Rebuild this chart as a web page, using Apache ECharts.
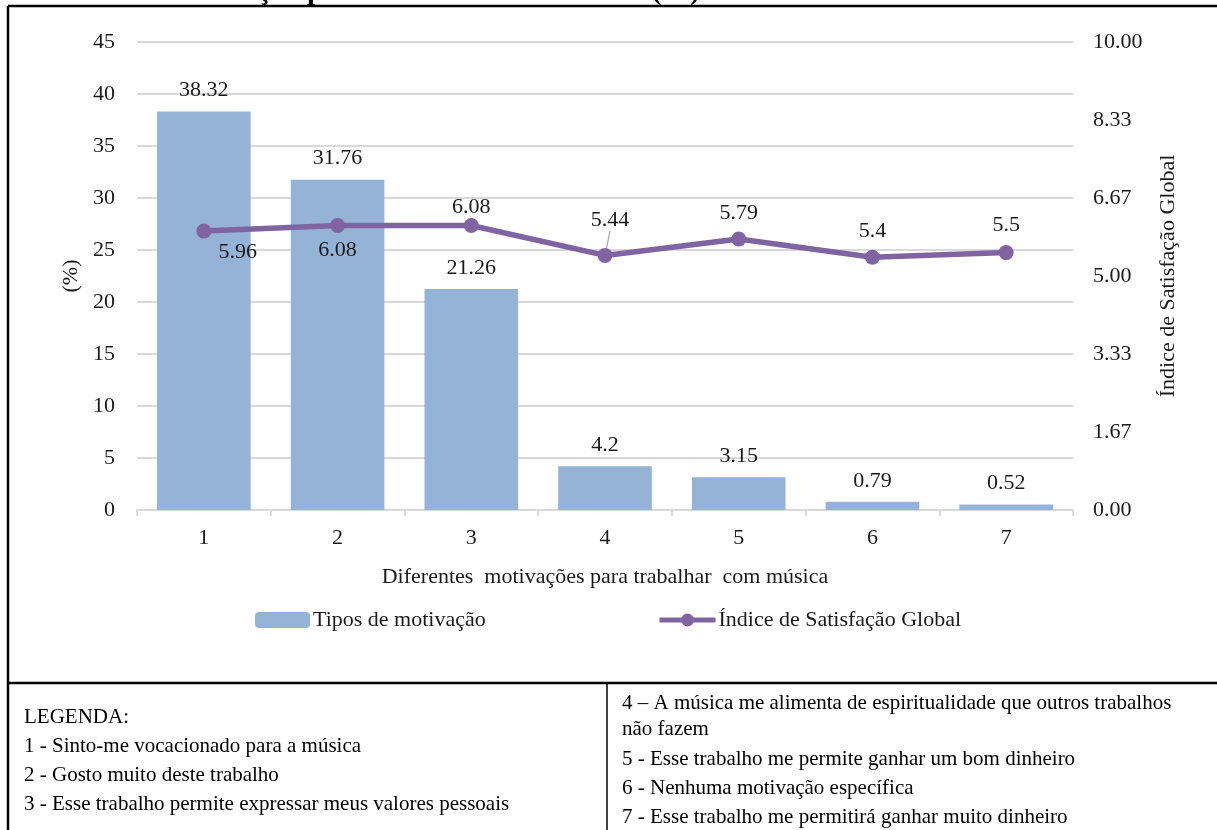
<!DOCTYPE html>
<html>
<head>
<meta charset="utf-8">
<script src="https://cdn.jsdelivr.net/npm/echarts@6/dist/echarts.min.js"></script>
<style>
  html, body { margin: 0; padding: 0; background: #fff; }
  #chart { width: 1217px; height: 830px; }
</style>
</head>
<body>
<div id="chart"></div>
<script>
// Categories (motivation codes) and the two series
const categories = ['1', '2', '3', '4', '5', '6', '7'];
const motivationPct = [38.32, 31.76, 21.26, 4.2, 3.15, 0.79, 0.52];
const satisfactionIndex = [5.96, 6.08, 6.08, 5.44, 5.79, 5.4, 5.5];

const barName = 'Tipos de motivação';
const lineName = 'Índice de Satisfação Global';
const xAxisName = 'Diferentes  motivações para trabalhar  com música';
const titleText = 'Gráfico 1 – Motivação para trabalhar com música (%)';

const legendLeft = [
  'LEGENDA:',
  '1 - Sinto-me vocacionado para a música',
  '2 - Gosto muito deste trabalho',
  '3 - Esse trabalho permite expressar meus valores pessoais'
];
const legendRight = [
  '4 – A música me alimenta de espiritualidade que outros trabalhos',
  'não fazem',
  '5 - Esse trabalho me permite ganhar um bom dinheiro',
  '6 - Nenhuma motivação específica',
  '7 - Esse trabalho me permitirá ganhar muito dinheiro'
];

const FONT = '"Liberation Serif", "Times New Roman", serif';
const TXT = '#1a1a1a';
const GRID_C = '#d9d9d9';
const FS = 22;

// per-point placement of the index labels
const lineLabelCfg = [
  { position: 'bottom', distance: 3 },
  { position: 'bottom', distance: 6 },
  { position: 'top', distance: 0 },
  { position: 'top', distance: 3 },
  { position: 'top', distance: 7 },
  { position: 'top', distance: 8 },
  { position: 'top', distance: 9 }
];

const lineData = satisfactionIndex.map((v, i) => {
  const item = { value: v, label: lineLabelCfg[i] };
  if (i === 3) {
    item.labelLine = { show: true, lineStyle: { color: '#a6a6a6', width: 1.2 } };
  }
  return item;
});

const chart = echarts.init(document.getElementById('chart'), null, { renderer: 'canvas' });

const textEls = [];
legendLeft.forEach((t, i) => {
  textEls.push({
    type: 'text', x: 24, y: [717, 746, 775, 804][i],
    style: { text: t, font: '21px ' + FONT, fill: '#000', verticalAlign: 'middle' }
  });
});
legendRight.forEach((t, i) => {
  textEls.push({
    type: 'text', x: 622, y: [703, 729, 759, 788, 817][i],
    style: { text: t, font: '21px ' + FONT, fill: '#000', verticalAlign: 'middle' }
  });
});

const option = {
  animation: false,
  textStyle: { fontFamily: FONT, color: TXT },
  grid: { left: 137, right: 144, top: 42, bottom: 320, containLabel: false },
  legend: [
    {
      left: 255, top: 609, padding: 0,
      itemWidth: 55, itemHeight: 16,
      data: [barName],
      textStyle: { fontFamily: FONT, fontSize: FS, color: TXT, padding: [0, 0, 0, -2] }
    },
    {
      left: 657, top: 609, padding: 0,
      itemWidth: 56, itemHeight: 16,
      data: [lineName],
      lineStyle: { width: 5 },
      textStyle: { fontFamily: FONT, fontSize: FS, color: TXT, padding: [0, 0, 0, -2] }
    }
  ],
  xAxis: {
    type: 'category',
    data: categories,
    boundaryGap: true,
    axisLine: { lineStyle: { color: GRID_C, width: 2 } },
    axisTick: { show: true, length: 6, lineStyle: { color: GRID_C, width: 2 } },
    axisLabel: { fontFamily: FONT, fontSize: FS, color: TXT, margin: 17 },
    name: xAxisName,
    nameLocation: 'middle',
    nameGap: 56,
    nameTextStyle: { fontFamily: FONT, fontSize: FS, color: TXT }
  },
  yAxis: [
    {
      type: 'value',
      min: 0, max: 45, interval: 5,
      axisLine: { show: false },
      axisTick: { show: false },
      splitLine: { lineStyle: { color: GRID_C, width: 2 } },
      axisLabel: { fontFamily: FONT, fontSize: FS, color: TXT, margin: 22 },
      name: '(%)',
      nameLocation: 'middle',
      nameGap: 55,
      nameRotate: 90,
      nameTextStyle: { fontFamily: FONT, fontSize: FS, color: TXT }
    },
    {
      type: 'value',
      min: 0, max: 10, interval: 10 / 6,
      axisLine: { show: false },
      axisTick: { show: false },
      splitLine: { show: false },
      axisLabel: {
        fontFamily: FONT, fontSize: FS, color: TXT, margin: 20,
        formatter: v => v.toFixed(2)
      },
      name: lineName,
      nameLocation: 'middle',
      nameGap: 84,
      nameRotate: 90,
      nameTextStyle: { fontFamily: FONT, fontSize: FS, color: TXT }
    }
  ],
  series: [
    {
      name: barName,
      type: 'bar',
      yAxisIndex: 0,
      data: motivationPct,
      barCategoryGap: '30%',
      itemStyle: { color: '#95b3d7' },
      label: {
        show: true, position: 'top', distance: 10,
        fontFamily: FONT, fontSize: FS, color: TXT
      }
    },
    {
      name: lineName,
      type: 'line',
      yAxisIndex: 1,
      data: lineData,
      symbol: 'circle',
      symbolSize: 15,
      lineStyle: { color: '#8064a2', width: 5.5 },
      itemStyle: { color: '#8064a2' },
      label: {
        show: true,
        fontFamily: FONT, fontSize: FS, color: TXT
      },
      labelLine: { show: false },
      labelLayout: function (p) {
        if (p.dataIndex === 0) return { dx: 34 };
        if (p.dataIndex === 3) return { dx: 5, dy: -14 };
        return {};
      },
      z: 5
    }
  ],
  graphic: [
    {
      type: 'text', x: 700, y: 6,
      style: {
        text: titleText, font: 'bold 29px ' + FONT, fill: '#000',
        align: 'right', verticalAlign: 'bottom'
      }
    },
    // outer frame and legend table rules
    { type: 'line', shape: { x1: 8, y1: 6, x2: 1217, y2: 6 }, style: { stroke: '#000', lineWidth: 2.5 } },
    { type: 'line', shape: { x1: 8, y1: 6, x2: 8, y2: 830 }, style: { stroke: '#000', lineWidth: 2.5 } },
    { type: 'line', shape: { x1: 8, y1: 683, x2: 1217, y2: 683 }, style: { stroke: '#000', lineWidth: 2.5 } },
    { type: 'line', shape: { x1: 607, y1: 683, x2: 607, y2: 830 }, style: { stroke: '#000', lineWidth: 1.5 } }
  ].concat(textEls)
};

chart.setOption(option);
</script>
</body>
</html>
